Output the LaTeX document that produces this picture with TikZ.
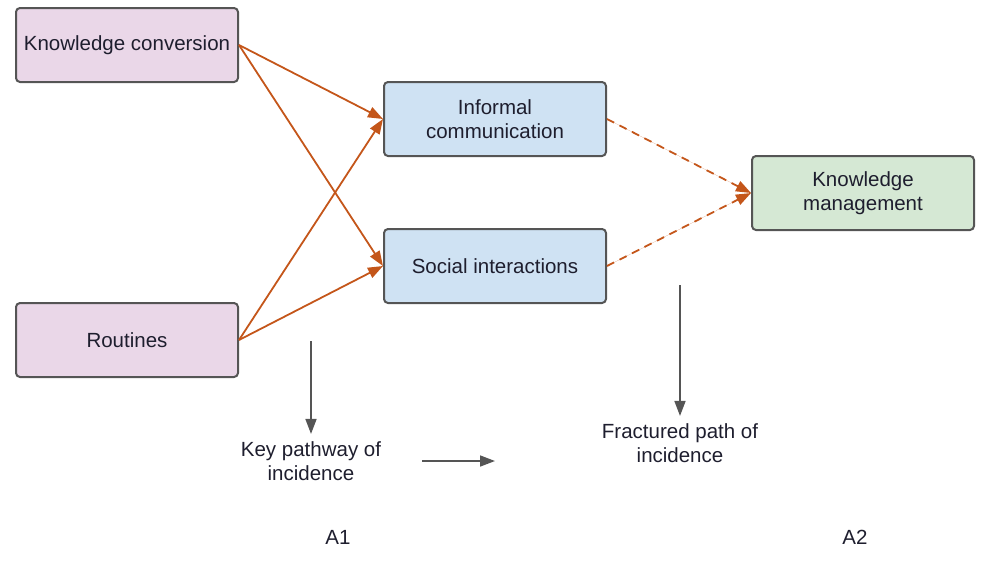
\documentclass[tikz,border=0pt]{standalone}
\usepackage{fontspec}
\setmainfont{Liberation Sans}
\usetikzlibrary{arrows.meta}
\definecolor{pinkfill}{HTML}{EAD7E8}
\definecolor{bluefill}{HTML}{CFE2F3}
\definecolor{greenfill}{HTML}{D5E8D4}
\definecolor{boxline}{HTML}{555555}
\definecolor{flow}{HTML}{C4561A}
\definecolor{txt}{HTML}{1E1E2E}
\definecolor{grayarrow}{HTML}{555555}
\tikzset{
  box/.style={draw=boxline, line width=2pt, rounded corners=4pt,
    minimum width=222pt, minimum height=74pt, align=center,
    text=txt, font=\fontsize{20.5}{24.5}\selectfont},
  label/.style={align=center, text=txt, font=\fontsize{20.5}{24}\selectfont},
  flowarrow/.style={draw=flow, line width=1.8pt,
    -{Triangle[length=15pt,width=11pt]}, fill=flow},
  brokenarrow/.style={flowarrow, dash pattern=on 8pt off 6pt},
  notearrow/.style={draw=grayarrow, line width=1.6pt,
    -{Triangle[length=15pt,width=11pt]}}
}
\begin{document}
\begin{tikzpicture}[x=1pt, y=-1pt]
\useasboundingbox (0,0) rectangle (992,560);

% factor boxes
\node[box, fill=pinkfill] (kc) at (127,45) {Knowledge conversion};
\node[box, fill=pinkfill] (rt) at (127,340) {Routines};
\node[box, fill=bluefill] (ic) at (495,119) {Informal\\communication};
\node[box, fill=bluefill] (si) at (495,266) {Social interactions};
\node[box, fill=greenfill] (km) at (863,193) {Knowledge\\management};

% key pathways
\draw[flowarrow] (kc.east) -- (ic.west);
\draw[flowarrow] (kc.east) -- (si.west);
\draw[flowarrow] (rt.east) -- (ic.west);
\draw[flowarrow] (rt.east) -- (si.west);

% fractured pathways
\draw[brokenarrow] (ic.east) -- (km.west);
\draw[brokenarrow] (si.east) -- (km.west);

% legend
\node[label] (key) at (311,461) {Key pathway of\\incidence};
\node[label] (frac) at (680,443) {Fractured path of\\incidence};
\node[label] (a1) at (338,537) {A1};
\node[label] (a2) at (855,537) {A2};

\coordinate (keytop) at (311,341);
\coordinate (fractop) at (680,285);
\coordinate (midstart) at (422,461);
\coordinate (midend) at (495,461);

\draw[notearrow, shorten >=4pt] (keytop) -- (key.north);
\draw[notearrow, shorten >=4pt] (fractop) -- (frac.north);
\draw[notearrow] (midstart) -- (midend);
\end{tikzpicture}
\end{document}
